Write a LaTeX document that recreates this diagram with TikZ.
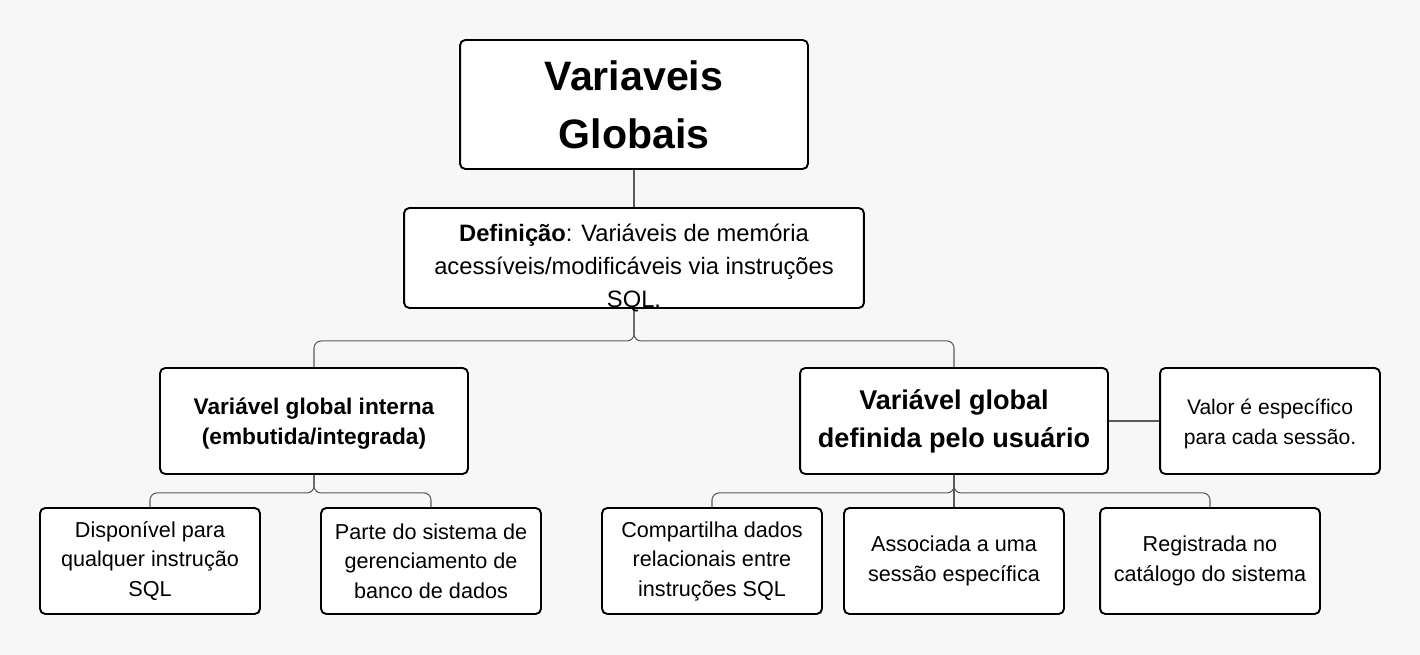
\documentclass[tikz,border=0pt]{standalone}
\usepackage{fontspec}
\setmainfont{Liberation Sans}
\usepackage{tikz}
\definecolor{bgcol}{HTML}{F7F7F7}
\definecolor{linecol}{HTML}{5A5A5A}

\begin{document}
\begin{tikzpicture}[x=0.02cm, y=-0.02cm,
    box/.style={draw=black, fill=white, line width=1.1pt, rounded corners=3pt, align=center, inner sep=0pt},
    leaf/.style={box, minimum width=4.4cm, minimum height=2.12cm, font=\fontsize{12.3}{16.8}\selectfont},
    conn/.style={draw=linecol, line width=0.6pt, rounded corners=4pt}]
    \fill[bgcol] (0,0) rectangle (1420,655);
    \useasboundingbox (0,0) rectangle (1420,655);

    \node[box, minimum width=6.96cm, minimum height=2.58cm, font=\fontsize{23.4}{33}\selectfont\bfseries] (title) at (634,104.5) {\rule{0pt}{7pt}Variaveis\\Globais};
    \node[box, minimum width=9.2cm, minimum height=2cm] (def) at (634,258) {};

    \node[box, minimum width=6.16cm, minimum height=2.12cm, font=\fontsize{12.9}{17}\selectfont\bfseries] (int) at (314,421) {\rule{0pt}{12pt}Variável global interna\\(embutida/integrada)};
    \node[box, minimum width=6.16cm, minimum height=2.12cm, font=\fontsize{15.4}{21.6}\selectfont\bfseries] (usr) at (954,421) {Variável global\\definida pelo usuário};
    \node[box, minimum width=4.4cm, minimum height=2.12cm, font=\fontsize{12}{17}\selectfont] (valor) at (1270,421) {\rule{0pt}{12pt}Valor é específico\\para cada sessão.};

    \node[leaf] (disp) at (150,561) {Disponível para\\qualquer instrução\\SQL};
    \node[leaf] (parte) at (431,561) {Parte do sistema de\\gerenciamento de\\banco de dados};
    \node[leaf] (comp) at (712,561) {Compartilha dados\\relacionais entre\\instruções SQL};
    \node[leaf] (assoc) at (954,561) {Associada a uma\\sessão específica};
    \node[leaf] (reg) at (1210,561) {Registrada no\\catálogo do sistema};

    % connectors
    \draw[conn] (title.south) -- (def.north);
    \draw[conn] (def.south) -- ++(0,32) -| (int.north);
    \draw[conn] (def.south) -- ++(0,32) -| (usr.north);
    \draw[conn] (int.south) -- ++(0,18) -| (disp.north);
    \draw[conn] (int.south) -- ++(0,18) -| (parte.north);
    \draw[conn] (usr.south) -- ++(0,18) -| (comp.north);
    \draw[conn] (usr.south) -- (assoc.north);
    \draw[conn] (usr.south) -- ++(0,18) -| (reg.north);
    \draw[conn] (usr.east) -- (valor.west);

    % text of the definition box runs over its lower edge
    \node[align=center, inner sep=0pt, font=\fontsize{13.5}{19}\selectfont] (deftext) at (634,268)
        {\textbf{Definição}: Variáveis de memória\\acessíveis/modificáveis via instruções\\SQL.};
\end{tikzpicture}
\end{document}
